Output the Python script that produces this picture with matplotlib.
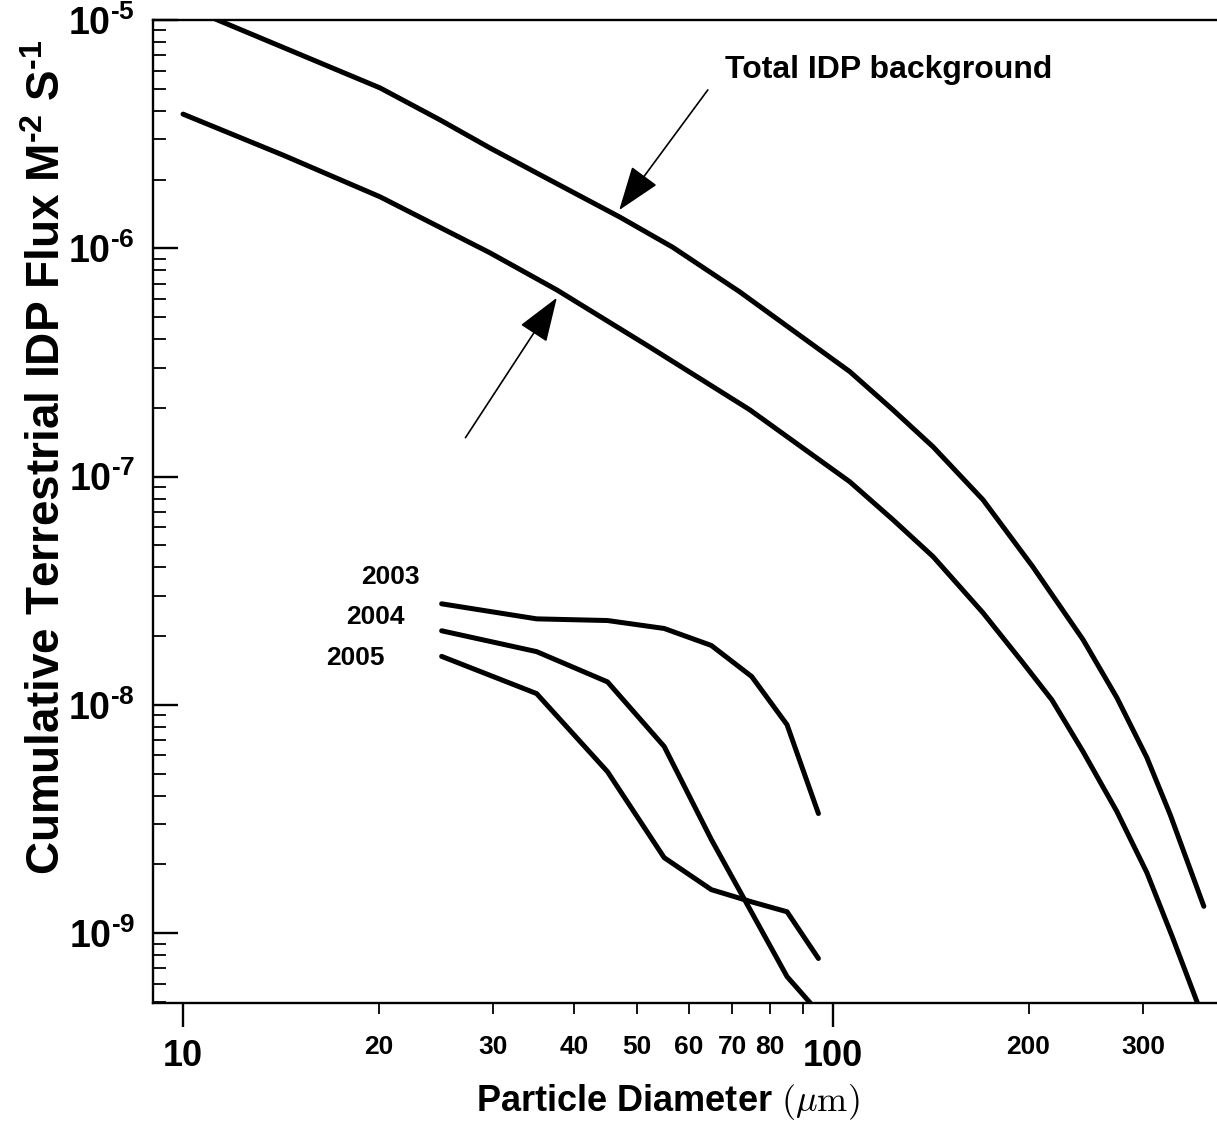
import matplotlib
matplotlib.use("Agg")
import matplotlib.pyplot as plt
from matplotlib.ticker import FixedLocator, FixedFormatter, NullFormatter, LogLocator

plt.rcParams['font.family'] = ['Liberation Sans', 'DejaVu Sans']
plt.rcParams['mathtext.fontset'] = 'custom'
plt.rcParams['mathtext.rm'] = 'Liberation Sans:bold'
plt.rcParams['mathtext.bf'] = 'Liberation Sans:bold'
plt.rcParams['mathtext.it'] = 'Liberation Sans:bold'

# ---- data ----
total_x = [10, 11.4, 20.1, 24.86, 29.67, 35.42, 47.0, 56.7, 71.9, 106.2, 123.7,
           142.6, 170.2, 203, 242.6, 273.5, 304.2, 330.3, 372.2]
total_y = [1.16e-5, 9.9e-6, 5.04e-6, 3.65e-6, 2.75e-6, 2.10e-6, 1.37e-6, 1.01e-6,
           6.44e-7, 2.88e-7, 1.96e-7, 1.35e-7, 7.91e-8, 4.03e-8, 1.93e-8, 1.075e-8,
           5.87e-9, 3.31e-9, 1.31e-9]

lower_x = [10, 14.25, 20.1, 29.67, 37.6, 52.2, 74.5, 106.2, 123.7, 142.6, 170.2,
           196.0, 217.3, 242.6, 273.5, 304.2, 332.3, 364.3]
lower_y = [3.87e-6, 2.56e-6, 1.68e-6, 9.55e-7, 6.57e-7, 3.70e-7, 1.96e-7, 9.48e-8,
           6.47e-8, 4.46e-8, 2.53e-8, 1.53e-8, 1.05e-8, 6.24e-9, 3.41e-9, 1.84e-9,
           9.76e-10, 4.9e-10]

year_x = [25, 35, 45, 55, 65, 75, 85, 95]
flux_2003 = [2.77e-8, 2.38e-8, 2.34e-8, 2.16e-8, 1.82e-8, 1.33e-8, 8.18e-9, 3.34e-9]
flux_2004 = [2.11e-8, 1.71e-8, 1.26e-8, 6.57e-9, 2.57e-9, 1.23e-9, 6.45e-10, 4.5e-10]
flux_2005 = [1.63e-8, 1.12e-8, 5.09e-9, 2.14e-9, 1.55e-9, 1.37e-9, 1.24e-9, 7.74e-10]

years = ['2003', '2004', '2005']

major_xticks = [10, 100]
major_xlabels = ['10', '100']
minor_xticks = [20, 30, 40, 50, 60, 70, 80, 90, 200, 300]
minor_xlabels = ['20', '30', '40', '50', '60', '70', '80', '', '200', '300']
yticks = [1e-9, 1e-8, 1e-7, 1e-6, 1e-5]
HY = '\u2010'
ylabels = [r'$\mathbf{10^{%s9}}$' % HY, r'$\mathbf{10^{%s8}}$' % HY,
           r'$\mathbf{10^{%s7}}$' % HY, r'$\mathbf{10^{%s6}}$' % HY,
           r'$\mathbf{10^{%s5}}$' % HY]

# ---- figure ----
W, H = 1217, 1126
fig = plt.figure(figsize=(W / 100, H / 100), dpi=100)
ax = fig.add_axes([153 / W, 1 - 1003 / H, (W - 153) / W, (1003 - 20) / H])
ax.set_xscale('log')
ax.set_yscale('log')
ax.set_xlim(8.99, 390)
ax.set_ylim(4.94e-10, 1e-5)

lw = 3.6
for xs, ys in [(total_x, total_y), (lower_x, lower_y), (year_x, flux_2003),
               (year_x, flux_2004), (year_x, flux_2005)]:
    ax.plot(xs, ys, color='black', lw=lw, solid_capstyle='round',
            solid_joinstyle='round', clip_on=True)

# spines
ax.spines['right'].set_visible(False)
for s in ['left', 'bottom', 'top']:
    ax.spines[s].set_linewidth(1.7)

# x ticks
ax.xaxis.set_major_locator(FixedLocator(major_xticks))
ax.xaxis.set_major_formatter(FixedFormatter(major_xlabels))
ax.xaxis.set_minor_locator(FixedLocator(minor_xticks))
ax.xaxis.set_minor_formatter(FixedFormatter(minor_xlabels))
ax.tick_params(axis='x', which='major', direction='out', length=17, width=1.7,
               labelsize=26, pad=9, top=False)
ax.tick_params(axis='x', which='minor', direction='out', length=8, width=1.3,
               labelsize=19, pad=15, top=False)
for t in ax.xaxis.get_majorticklabels() + ax.xaxis.get_minorticklabels():
    t.set_fontweight('bold')

# y ticks
ax.yaxis.set_major_locator(FixedLocator(yticks))
ax.yaxis.set_major_formatter(FixedFormatter(ylabels))
ax.yaxis.set_minor_locator(LogLocator(base=10, subs=range(2, 10), numticks=20))
ax.yaxis.set_minor_formatter(NullFormatter())
ax.tick_params(axis='y', which='major', direction='in', length=18, width=1.7,
               labelsize=27, pad=13, right=False)
ax.tick_params(axis='y', which='minor', direction='in', length=9, width=1.3,
               right=False)

# axis labels
ax.set_xlabel(r'Particle Diameter $(\mu\mathrm{m})$', fontsize=26, fontweight='bold',
              math_fontfamily='cm')
ax.xaxis.set_label_coords((668 - 153) / (W - 153), -(1082 - 1003) / 983)
ax.xaxis.label.set_va('top')
ax.set_ylabel(r'Cumulative Terrestrial IDP Flux M$^{%s2}$ S$^{%s1}$' % (HY, HY),
              fontsize=33, fontweight='bold')
ax.yaxis.set_label_coords(-(153 - 70) / (W - 153), (1003 - 457) / 983)

# annotations
ax.text(68.2, 6.04e-6, 'Total IDP background', fontsize=23, fontweight='bold',
        ha='left', va='center')
arrow = dict(arrowstyle='-|>,head_length=1.4,head_width=0.5', mutation_scale=20,
             lw=1.2, color='black', shrinkA=0, shrinkB=0)
ax.annotate('', xy=(46.9, 1.47e-6), xytext=(64.2, 4.94e-6), arrowprops=arrow)
ax.annotate('', xy=(37.6, 6.07e-7), xytext=(27.2, 1.48e-7), arrowprops=arrow)

year_pos = [(23.15, 3.64e-8), (21.95, 2.43e-8), (20.46, 1.61e-8)]
for lab, (xp, yp) in zip(years, year_pos):
    ax.text(xp, yp, lab, fontsize=19, fontweight='bold', ha='right', va='center')

fig.savefig('out.png', dpi=100)
